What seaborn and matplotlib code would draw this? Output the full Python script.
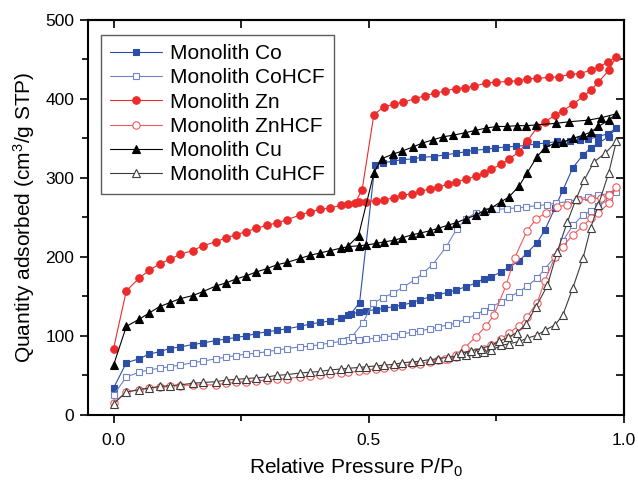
import numpy as np
import pandas as pd
import matplotlib.pyplot as plt
import seaborn as sns
from matplotlib.ticker import MultipleLocator

# relative pressure of the adsorption points (same grid for every sample)
p_ads = [0.0, 0.025, 0.05, 0.07, 0.09, 0.11, 0.13, 0.155, 0.175, 0.2, 0.22, 0.24, 0.26, 0.28,
         0.3, 0.32, 0.34, 0.365, 0.385, 0.405, 0.425, 0.445, 0.46, 0.48, 0.495, 0.515, 0.53,
         0.55, 0.565, 0.585, 0.6, 0.62, 0.635, 0.655, 0.67, 0.69, 0.71, 0.725, 0.74, 0.76,
         0.775, 0.795, 0.81, 0.83, 0.845, 0.865, 0.88, 0.9, 0.92, 0.935, 0.95, 0.97, 0.985]

# Monolith Co
co_ads = [34, 66, 71, 77, 80, 84, 86, 89, 91, 94, 96, 98, 100, 103, 105, 107, 109, 112, 115, 117,
          119, 122, 127, 130, 132, 133, 135, 137, 139, 142, 146, 149, 152, 155, 158, 162, 167, 172,
          175, 181, 187, 195, 205, 218, 234, 262, 284, 313, 329, 338, 344, 352, 363]
co_des_p = [0.969, 0.949, 0.93, 0.914, 0.895, 0.868, 0.848, 0.828, 0.808, 0.789, 0.769, 0.748,
            0.729, 0.707, 0.69, 0.67, 0.649, 0.627, 0.605, 0.586, 0.566, 0.547, 0.527, 0.512,
            0.482, 0.465]
co_des = [356, 352, 349, 348, 347, 346, 344, 343, 341, 340, 339, 338, 336, 335, 333, 331, 329,
          327, 326, 324, 323, 321, 319, 316, 142, 128]

# Monolith CoHCF
cohcf_ads = [25, 48, 54, 57, 59, 61, 63, 66, 68, 71, 73, 75, 77, 78, 80, 82, 84, 86, 87, 89, 91,
             93, 95, 95, 96, 97, 99, 100, 102, 105, 106, 109, 111, 114, 116, 121, 127, 132, 137,
             143, 149, 156, 163, 173, 185, 200, 220, 240, 253, 258, 264, 273, 282]
cohcf_des_p = [0.97, 0.95, 0.93, 0.91, 0.89, 0.867, 0.85, 0.83, 0.808, 0.79, 0.77, 0.75, 0.73,
               0.71, 0.69, 0.672, 0.652, 0.625, 0.607, 0.59, 0.568, 0.547, 0.527, 0.508, 0.488,
               0.467, 0.45]
cohcf_des = [280, 278, 276, 273, 270, 268, 266, 265, 263, 262, 261, 260, 258, 256, 248, 235, 213,
             190, 180, 171, 162, 154, 148, 141, 116, 99, 93]

# Monolith Zn
zn_ads = [84, 157, 173, 183, 191, 197, 203, 208, 214, 219, 224, 228, 232, 236, 240, 243, 247, 253,
          257, 260, 262, 265, 267, 269, 270, 271, 272, 275, 278, 280, 283, 286, 288, 292, 295, 298,
          302, 306, 311, 317, 324, 333, 346, 364, 371, 379, 385, 393, 403, 411, 421, 436, 453]
zn_des_p = [0.969, 0.951, 0.935, 0.913, 0.895, 0.873, 0.853, 0.83, 0.811, 0.793, 0.772, 0.75,
            0.73, 0.707, 0.688, 0.67, 0.65, 0.63, 0.61, 0.59, 0.568, 0.549, 0.53, 0.51, 0.487,
            0.473]
zn_des = [447, 440, 436, 432, 431, 428, 427, 426, 425, 423, 422, 421, 420, 416, 414, 413, 410,
          407, 404, 400, 396, 393, 390, 380, 285, 268]

# Monolith ZnHCF
znhcf_ads = [15, 29, 32, 34, 35, 36, 37, 38, 38, 38, 40, 41, 42, 43, 44, 45, 46, 48, 49, 50, 52,
             53, 54, 55, 57, 58, 59, 61, 62, 64, 65, 67, 69, 71, 73, 76, 80, 84, 89, 96, 104, 113,
             124, 142, 170, 200, 213, 228, 239, 249, 255, 268, 289]
znhcf_des_p = [0.97, 0.955, 0.935, 0.91, 0.889, 0.869, 0.848, 0.828, 0.81, 0.786, 0.769, 0.745,
               0.729, 0.71, 0.688, 0.67, 0.65]
znhcf_des = [278, 275, 273, 272, 266, 263, 256, 248, 233, 199, 164, 126, 112, 99, 85, 76, 71]

# Monolith Cu
cu_ads = [63, 112, 121, 129, 137, 142, 147, 151, 156, 163, 167, 172, 176, 181, 185, 190, 193, 198,
          202, 205, 208, 211, 213, 214, 215, 217, 219, 221, 224, 228, 230, 233, 236, 240, 243, 248,
          253, 258, 262, 270, 276, 290, 306, 327, 338, 344, 345, 350, 354, 358, 365, 373, 381]
cu_des_p = [0.955, 0.93, 0.893, 0.867, 0.828, 0.808, 0.79, 0.77, 0.75, 0.73, 0.709, 0.688,
            0.666, 0.646, 0.625, 0.605, 0.586, 0.566, 0.547, 0.525, 0.51, 0.48, 0.46]
cu_des = [376, 373, 371, 369, 367, 366, 366, 365, 365, 363, 360, 357, 354, 352, 348, 344, 339,
          334, 330, 324, 306, 227, 214]

# Monolith CuHCF
cuhcf_ads = [14, 29, 32, 34, 36, 37, 38, 40, 41, 42, 44, 45, 46, 47, 48, 50, 51, 53, 54, 55, 57,
             58, 59, 60, 61, 62, 63, 64, 66, 67, 68, 70, 71, 73, 74, 76, 78, 80, 82, 88, 90, 93,
             97, 101, 107, 114, 126, 161, 199, 237, 266, 306, 346]
cuhcf_des_p = [0.963, 0.941, 0.922, 0.906, 0.889, 0.869, 0.85, 0.828, 0.808, 0.79, 0.772, 0.756,
               0.74, 0.72, 0.7, 0.68]
cuhcf_des = [331, 320, 297, 273, 244, 206, 164, 137, 115, 104, 98, 93, 88, 84, 81, 78]

names = ["Monolith Co", "Monolith CoHCF", "Monolith Zn", "Monolith ZnHCF", "Monolith Cu", "Monolith CuHCF"]
ads = [co_ads, cohcf_ads, zn_ads, znhcf_ads, cu_ads, cuhcf_ads]
des_p = [co_des_p, cohcf_des_p, zn_des_p, znhcf_des_p, cu_des_p, cuhcf_des_p]
des = [co_des, cohcf_des, zn_des, znhcf_des, cu_des, cuhcf_des]
markers = ["s", "s", "o", "o", "^", "^"]
colors = ["#2c4ea6", "#6f84c9", "#ec2b2b", "#f05a5a", "#000000", "#3c3c3c"]
filled = [True, False, True, False, True, False]
msizes = [4.3, 4.5, 5.4, 5.3, 5.8, 5.8]

sns.set_style("ticks", {"axes.edgecolor": "black", "xtick.color": "black", "ytick.color": "black"})
plt.rcParams["font.family"] = ["Liberation Sans", "DejaVu Sans"]
plt.rcParams["mathtext.fontset"] = "custom"
plt.rcParams["mathtext.rm"] = "Liberation Sans"
plt.rcParams["mathtext.default"] = "regular"
plt.rcParams["text.color"] = "black"
plt.rcParams["axes.labelcolor"] = "black"

fig = plt.figure(figsize=(6.38, 4.83), dpi=100)
ax = fig.add_axes([0.138, 0.141, 0.840, 0.818])

for i in range(6):
    df = pd.DataFrame({"P": p_ads + des_p[i], "Q": ads[i] + des[i]})
    sns.lineplot(data=df, x="P", y="Q", sort=False, estimator=None, ax=ax,
                 color=colors[i], linewidth=0.8, marker=markers[i], markersize=msizes[i],
                 markerfacecolor=colors[i] if filled[i] else "white",
                 markeredgecolor=colors[i], markeredgewidth=0.8, label=names[i])

ax.set_xlim(-0.05, 1.0)
ax.set_ylim(0, 500)
ax.xaxis.set_major_locator(MultipleLocator(0.5))
ax.xaxis.set_minor_locator(MultipleLocator(0.25))
ax.yaxis.set_major_locator(MultipleLocator(100))
ax.yaxis.set_minor_locator(MultipleLocator(50))
ax.set_xticks([0.0, 0.5, 1.0], ["0.0", "0.5", "1.0"])
ax.tick_params(which="major", direction="out", length=6, width=1.2, labelsize=12.5, pad=4,
               color="black", labelcolor="black")
ax.tick_params(which="minor", direction="out", length=4, width=1.2, color="black")
ax.tick_params(axis="x", which="major", pad=7)

top = ax.secondary_xaxis("top")
top.xaxis.set_major_locator(MultipleLocator(0.25))
top.tick_params(direction="in", length=6, width=1.2, labeltop=False, color="black")
right = ax.secondary_yaxis("right")
right.yaxis.set_major_locator(MultipleLocator(50))
right.tick_params(direction="in", length=6, width=1.2, labelright=False, color="black")

for sp in list(ax.spines.values()) + [top.spines["top"], right.spines["right"]]:
    sp.set_linewidth(1.5)
    sp.set_edgecolor("black")

ax.set_xlabel("Relative Pressure P/P$_0$", fontsize=15, labelpad=6)
ax.set_ylabel("Quantity adsorbed (cm$^3$/g STP)", fontsize=15, labelpad=6)

leg = ax.legend(loc="upper left", bbox_to_anchor=(0.024, 0.962), borderaxespad=0,
                fontsize=15, frameon=True, fancybox=False, edgecolor="#333333",
                handlelength=2.5, handletextpad=0.35, labelspacing=0.25, borderpad=0.45)
leg.get_frame().set_linewidth(1.0)

fig.savefig("out.png", dpi=100)
